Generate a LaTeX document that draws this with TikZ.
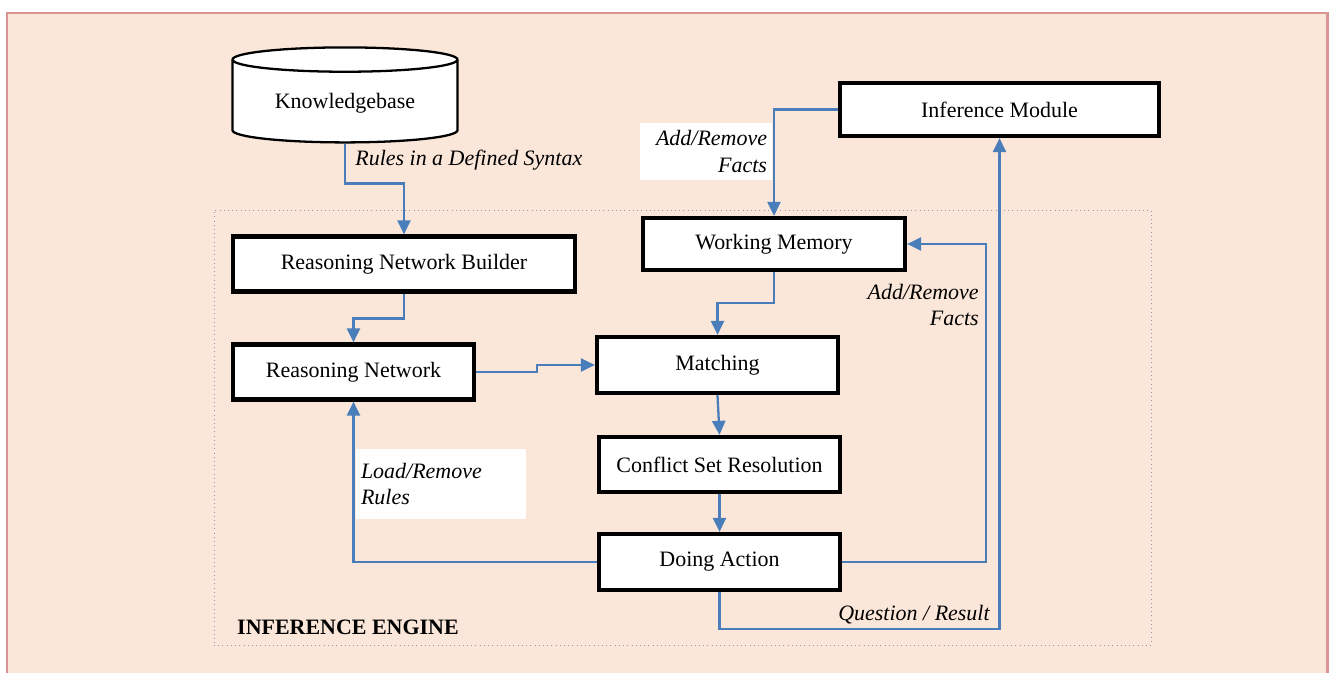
\documentclass[tikz,border=0pt]{standalone}
\usepackage{fontspec}
\setmainfont{Liberation Serif}
\usepackage{xcolor}
\usetikzlibrary{shapes.geometric,arrows.meta}
\definecolor{peach}{HTML}{FBE7D9}
\definecolor{pinkborder}{HTML}{D99594}
\definecolor{flowblue}{HTML}{4A7EBB}
\definecolor{dotgray}{HTML}{8C96AF}

\begin{document}
\begin{tikzpicture}
   [
   font=\fontsize{12.5}{15}\selectfont,
   procbox/.style={rectangle, draw=black, fill=white, line width=2.4pt, align=center, inner sep=0pt},
   dbbox/.style={cylinder, shape border rotate=90, aspect=0.16, draw=black, fill=white, line width=1.3pt, minimum width=4.5cm, minimum height=1.9cm},
   enginebox/.style={rectangle, draw=dotgray, dotted, thin, minimum width=18.74cm, minimum height=8.7cm, inner sep=0pt},
   labeltext/.style={font=\fontsize{12.5}{15}\selectfont\itshape, inner sep=0pt},
   whitelabel/.style={rectangle, fill=white, font=\fontsize{12.5}{15}\selectfont\itshape, inner sep=3pt},
   flowline/.style={draw=flowblue, line width=1.3pt, -{Triangle[length=8pt,width=7.5pt]}},
   ]
 \useasboundingbox (0,0) rectangle (26.58,-13.46);
 \fill[peach] (0.14,-0.26) rectangle (26.58,-13.46);
 \draw[pinkborder, line width=1.7pt] (0.14,-13.46) -- (0.14,-0.26) -- (26.54,-0.26) -- (26.54,-13.46);
 \node at (13.65,-8.55) [enginebox] (engine) {};
 \node[anchor=west, font=\fontsize{12.5}{15}\selectfont\bfseries] at (4.62,-12.54) (enginetitle) {INFERENCE ENGINE};

 \node at (6.9,-2.07) [dbbox] (kb) {Knowledgebase};
 \node at (8.08,-5.28) [procbox, minimum width=6.84cm, minimum height=1.1cm] (rnb) {Reasoning Network Builder};
 \node at (7.07,-7.44) [procbox, minimum width=4.82cm, minimum height=1.1cm] (rn) {Reasoning Network};
 \node at (14.35,-7.3) [procbox, minimum width=4.82cm, minimum height=1.12cm] (match) {Matching};
 \node at (14.39,-9.29) [procbox, minimum width=4.82cm, minimum height=1.1cm] (csr) {Conflict Set Resolution};
 \node at (14.39,-11.24) [procbox, minimum width=4.82cm, minimum height=1.12cm] (act) {Doing Action};
 \node at (15.48,-4.88) [procbox, minimum width=5.24cm, minimum height=1.04cm] (wm) {Working Memory};
 \node at (19.99,-2.19) [procbox, minimum width=6.38cm, minimum height=1.06cm] (im) {Inference Module};

 \node at (14.12,-3.03) [whitelabel, minimum width=2.56cm, minimum height=1.14cm, align=right, text width=2.44cm] (lblimfacts) {Add/Remove\\Facts};
 \node at (8.82,-9.68) [whitelabel, minimum width=3.36cm, minimum height=1.4cm, align=left, text width=3.2cm] (lblrules) {Load/Remove\\Rules};
 \node[anchor=west] at (7.1,-3.2) [labeltext] (lblsyntax) {Rules in a Defined Syntax};
 \node[anchor=east] at (19.58,-6.1) [labeltext, align=right] (lblactfacts) {Add/Remove\\Facts};
 \node at (18.28,-12.3) [labeltext] (lblquestion) {Question / Result};

 \draw[flowline] (kb.south) -- ++(0,-0.8) -| (rnb.north);
 \draw[flowline] (rnb.south) -- ++(0,-0.5) -| (rn.north);
 \draw[flowline] (rn.east) -- ++(1.22,0) |- (match.west);
 \draw[flowline] (match.south) -- (csr.north);
 \draw[flowline] (csr.south) -- (act.north);
 \draw[flowline] (act.west) -| (rn.south);
 \draw[flowline] (act.east) -- ++(2.88,0) |- (wm.east);
 \draw[flowline] (act.south) -- ++(0,-0.74) -| (im.south);
 \draw[flowline] (wm.south) -- ++(0,-0.62) -| (match.north);
 \draw[flowline] (im.west) -| (wm.north);
   \end{tikzpicture}
\end{document}
